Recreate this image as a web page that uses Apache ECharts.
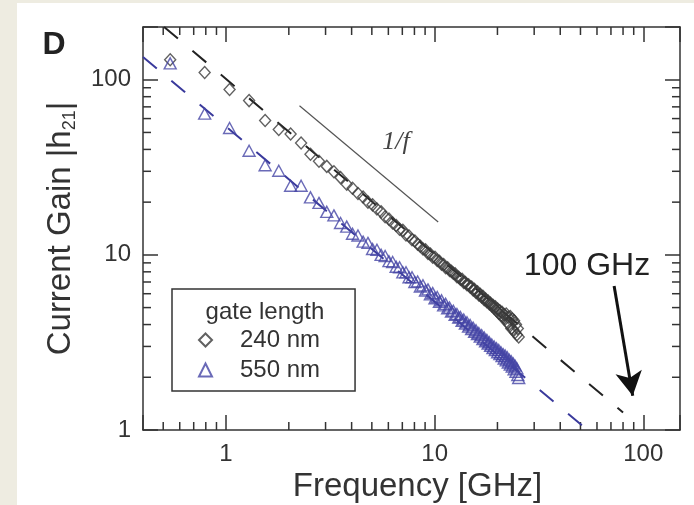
<!DOCTYPE html>
<html><head><meta charset="utf-8">
<script src="https://cdn.jsdelivr.net/npm/echarts@6/dist/echarts.min.js"></script>
<style>
html,body{margin:0;padding:0;width:694px;height:505px;overflow:hidden;background:#eeece1;}
#bg{position:absolute;left:17px;top:3px;right:0;bottom:0;background:#fff;}
#chart{position:absolute;left:0;top:0;width:694px;height:505px;}
</style></head><body>
<div id="bg"></div><div id="chart"></div>
<script>
// ---- data ----
const fGHz = [0.54,0.79,1.04,1.29,1.54,1.79,2.04,2.29,2.54,2.79,3.04,3.29,3.54,3.79,4.04,4.29,4.54,4.79,5.04,5.29,
  5.54,5.79,6.04,6.29,6.54,6.79,7.04,7.29,7.54,7.79,8.04,8.29,8.54,8.79,9.04,9.29,9.54,9.79,10.04,10.29,
  10.54,10.79,11.04,11.29,11.54,11.79,12.04,12.29,12.54,12.79,13.04,13.29,13.54,13.79,14.04,14.29,14.54,14.79,15.04,15.29,
  15.54,15.79,16.04,16.29,16.54,16.79,17.04,17.29,17.54,17.79,18.04,18.29,18.54,18.79,19.04,19.29,19.54,19.79,20.04,20.29,
  20.54,20.79,21.04,21.29,21.54,21.79,22.04,22.29,22.54,22.79,23.04,23.29,23.54,23.79,24.04,24.29,24.54,24.79,25.04,25.29];
const h240 = [130,110,88,76,58.5,52,49,43.5,37.5,34.2,32.0,29.8,27.6,25.3,24.0,22.4,21.4,20.0,19.3,18.3,
  17.6,16.5,16.0,15.2,14.7,14.0,13.8,13.0,12.8,12.2,12.0,11.5,11.2,10.8,10.7,10.2,10.1,9.7,9.7,9.3,
  9.2,8.85,8.8,8.45,8.45,8.15,8.05,7.85,7.8,7.5,7.45,7.25,7.25,6.95,6.95,6.75,6.75,6.55,6.55,6.3,
  6.35,6.1,6.15,5.9,5.95,5.75,5.8,5.55,5.6,5.4,5.45,5.25,5.3,5.1,5.15,4.95,5.05,4.8,4.9,4.65,
  4.8,4.5,4.7,4.4,4.55,4.3,4.6,4.1,4.4,4.0,4.45,3.8,4.3,3.75,4.2,3.6,4.0,3.5,3.8,3.4];
const h550 = [124,64,53,39.3,32.5,30.2,24.8,24.8,21.3,19.8,17.6,16.8,15.2,14.5,13.2,12.9,11.9,11.7,10.8,10.7,
  10.0,9.85,9.2,9.1,8.55,8.5,7.95,7.95,7.45,7.45,7.0,7.05,6.6,6.7,6.25,6.35,5.95,6.05,5.65,5.75,
  5.4,5.5,5.15,5.25,4.95,5.0,4.75,4.8,4.55,4.6,4.38,4.42,4.2,4.27,4.05,4.12,3.9,3.98,3.77,3.84,
  3.64,3.71,3.53,3.58,3.41,3.48,3.31,3.37,3.21,3.27,3.11,3.17,3.02,3.08,2.94,3.0,2.86,2.93,2.78,2.86,
  2.71,2.78,2.64,2.71,2.56,2.66,2.5,2.6,2.43,2.52,2.36,2.47,2.3,2.4,2.22,2.33,2.15,2.25,2.06,1.98];
// dashed fits (end points)
const fit240F = [0.505, 80];
const fit240H = [200, 1.26];
const fit550F = [0.4, 54];
const fit550H = [135, 1];
// 1/f guide
const guideF = [2.25, 10.4];
const guideH = [71.1, 15.4];
// arrow to 100 GHz
const arrowF = [72.5, 89.0];
const arrowH = [6.63, 1.57];
// axes
const X_MIN = 0.4, X_MAX = 150, Y_MIN = 1, Y_MAX = 200;
const minorX = [0.5,0.6,0.7,0.8,0.9,2,3,4,5,6,7,8,9,20,30,40,50,60,70,80,90];
const minorY = [2,3,4,5,6,7,8,9,20,30,40,50,60,70,80,90];

const FONT = 'Liberation Sans';
const TXT = '#333';
const isDecade = v => Math.abs(Math.log10(v) - Math.round(Math.log10(v))) < 1e-6;

const axisCommon = {
  type: 'log', logBase: 10,
  axisLine: {show: true, lineStyle: {color: '#333', width: 1.5}},
  axisTick: {show: true, inside: true, length: 15, lineStyle: {color: '#333', width: 1.5}},
  splitLine: {show: false}, minorTick: {show: false}, minorSplitLine: {show: false}
};

const chart = echarts.init(document.getElementById('chart'));
chart.setOption({
  animation: false,
  backgroundColor: 'transparent',
  grid: {left: 143, right: 14, top: 27, bottom: 75, containLabel: false, outerBoundsMode: 'none'},
  xAxis: [
    Object.assign({}, axisCommon, {
      position: 'bottom', min: X_MIN, max: X_MAX,
      axisLabel: {show: true, margin: 12, fontSize: 24, color: TXT, fontFamily: FONT,
        formatter: v => isDecade(v) ? String(Math.round(v)) : ''},
      name: 'Frequency [GHz]', nameLocation: 'middle', nameGap: 35,
      nameTextStyle: {fontSize: 33, color: TXT, fontFamily: FONT, padding: [0, 0, 0, 12]}
    }),
    Object.assign({}, axisCommon, {position: 'top', min: X_MIN, max: X_MAX, axisLabel: {show: false}})
  ],
  yAxis: [
    Object.assign({}, axisCommon, {
      position: 'left', min: Y_MIN, max: Y_MAX,
      axisLabel: {show: true, margin: 12, fontSize: 24, color: TXT, fontFamily: FONT,
        formatter: v => isDecade(v) ? String(Math.round(v)) : ''},
      name: '{a|Current Gain |h}{s|21}{a||}', nameLocation: 'middle', nameGap: 64,
      nameTextStyle: {
        rich: {
          a: {fontSize: 33, color: TXT, fontFamily: FONT, lineHeight: 36},
          s: {fontSize: 18, color: TXT, fontFamily: FONT, lineHeight: 18, verticalAlign: 'bottom'}
        }
      }
    }),
    Object.assign({}, axisCommon, {position: 'right', min: Y_MIN, max: Y_MAX, axisLabel: {show: false}})
  ],
  legend: {
    data: ['240 nm', '550 nm'], orient: 'vertical', left: 172, top: 289,
    padding: [36, 35, 6, 26], itemGap: 0, itemWidth: 13, itemHeight: 13,
    borderColor: '#333', borderWidth: 1.5, borderRadius: 0, selectedMode: false,
    textStyle: {fontSize: 24, lineHeight: 30, color: TXT, fontFamily: FONT, padding: [0, 0, 0, 23]}
  },
  graphic: [
    {type: 'text', x: 54, y: 45, style: {text: 'D', font: 'bold 32px "Liberation Sans"', fill: '#222', align: 'center', verticalAlign: 'middle'}},
    {type: 'text', x: 265, y: 312, style: {text: 'gate length', font: '24px "Liberation Sans"', fill: TXT, align: 'center', verticalAlign: 'middle'}},
    {type: 'text', x: 587, y: 266, style: {text: '100 GHz', font: '32px "Liberation Sans"', fill: '#222', align: 'center', verticalAlign: 'middle'}},
    {type: 'text', x: 396, y: 142, style: {text: '1/f', font: 'italic 26px "Liberation Serif"', fill: '#444', align: 'center', verticalAlign: 'middle'}}
  ],
  series: [
    {
      type: 'custom', silent: true, clip: false, z: 1,
      data: minorX.map(v => [v, Y_MIN, 0]).concat(minorY.map(v => [X_MIN, v, 1])),
      renderItem: function (params, api) {
        const kind = api.value(2), L = 8, st = {stroke: '#333', lineWidth: 1.5};
        if (kind === 0) {
          const v = api.value(0);
          const b = api.coord([v, Y_MIN]), t = api.coord([v, Y_MAX]);
          return {type: 'group', children: [
            {type: 'line', shape: {x1: b[0], y1: b[1], x2: b[0], y2: b[1] - L}, style: st},
            {type: 'line', shape: {x1: t[0], y1: t[1], x2: t[0], y2: t[1] + L}, style: st}
          ]};
        }
        const v = api.value(1);
        const l = api.coord([X_MIN, v]), r = api.coord([X_MAX, v]);
        return {type: 'group', children: [
          {type: 'line', shape: {x1: l[0], y1: l[1], x2: l[0] + L, y2: l[1]}, style: st},
          {type: 'line', shape: {x1: r[0], y1: r[1], x2: r[0] - L, y2: r[1]}, style: st}
        ]};
      }
    },
    {
      name: 'fit 240', type: 'line', silent: true, symbol: 'none', z: 2,
      data: fit240F.map((f, i) => [f, fit240H[i]]),
      lineStyle: {color: '#222', width: 2, type: [18, 19]}
    },
    {
      name: 'fit 550', type: 'line', silent: true, symbol: 'none', z: 2,
      data: fit550F.map((f, i) => [f, fit550H[i]]),
      lineStyle: {color: '#3a3a9c', width: 2, type: [18, 19]}
    },
    {
      name: 'guide', type: 'line', silent: true, symbol: 'none', z: 2,
      data: guideF.map((f, i) => [f, guideH[i]]),
      lineStyle: {color: '#555', width: 1.2},
      markLine: {
        silent: true, animation: false, label: {show: false},
        lineStyle: {color: '#111', width: 3, type: 'solid'},
        data: [[
          {coord: [arrowF[0], arrowH[0]], symbol: 'none'},
          {coord: [arrowF[1], arrowH[1]], symbol: 'arrow', symbolSize: [20, 24]}
        ]]
      }
    },
    {
      name: '240 nm', type: 'scatter', z: 3,
      data: fGHz.map((f, i) => [f, h240[i]]),
      symbol: 'diamond', symbolSize: [11, 12],
      itemStyle: {color: 'rgba(0,0,0,0)', borderColor: '#3a3a3a', borderWidth: 1.4}
    },
    {
      name: '550 nm', type: 'scatter', z: 3,
      data: fGHz.map((f, i) => [f, h550[i]]),
      symbol: 'triangle', symbolSize: [12, 11],
      itemStyle: {color: 'rgba(0,0,0,0)', borderColor: '#4545a5', borderWidth: 1.4}
    }
  ]
});
</script></body></html>
